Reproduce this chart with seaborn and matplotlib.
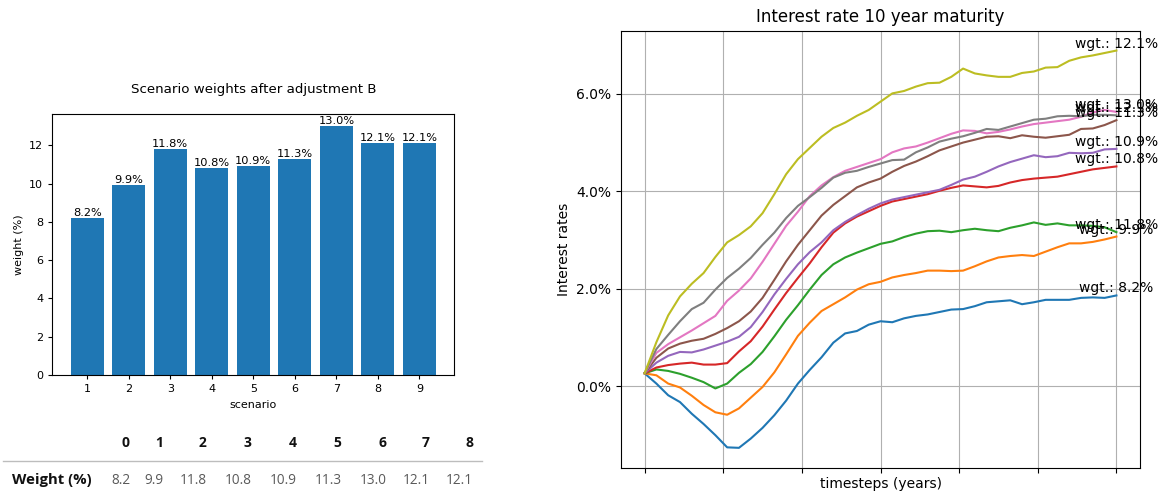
import numpy as np
import pandas as pd
import matplotlib
matplotlib.use("Agg")
import matplotlib.pyplot as plt
from matplotlib.lines import Line2D
from matplotlib.ticker import MultipleLocator, PercentFormatter
import seaborn as sns

# ---- data -------------------------------------------------------------
scenarios = [1, 2, 3, 4, 5, 6, 7, 8, 9]
weights = [8.2, 9.9, 11.8, 10.8, 10.9, 11.3, 13.0, 12.1, 12.1]

# monthly timesteps, sampled every quarter over 10 years
timesteps = list(range(0, 121, 3))

rate_s1 = [0.26, 0.05, -0.19, -0.33, -0.57, -0.78, -1.01, -1.26, -1.27, -1.08,
           -0.86, -0.60, -0.30, 0.05, 0.33, 0.59, 0.89, 1.08, 1.13, 1.26,
           1.33, 1.31, 1.39, 1.44, 1.47, 1.52, 1.57, 1.58, 1.64, 1.72,
           1.74, 1.76, 1.68, 1.72, 1.77, 1.77, 1.77, 1.81, 1.82, 1.81, 1.86]
rate_s2 = [0.26, 0.22, 0.05, -0.03, -0.20, -0.39, -0.54, -0.59, -0.46, -0.24,
           -0.02, 0.28, 0.65, 1.03, 1.30, 1.54, 1.68, 1.82, 1.98, 2.09,
           2.14, 2.23, 2.28, 2.32, 2.37, 2.37, 2.36, 2.37, 2.46, 2.56,
           2.64, 2.67, 2.69, 2.67, 2.76, 2.85, 2.93, 2.93, 2.96, 3.01, 3.07]
rate_s3 = [0.26, 0.34, 0.31, 0.25, 0.17, 0.08, -0.05, 0.05, 0.27, 0.45,
           0.70, 1.02, 1.36, 1.66, 1.98, 2.28, 2.50, 2.64, 2.74, 2.83,
           2.92, 2.97, 3.06, 3.13, 3.18, 3.19, 3.16, 3.20, 3.23, 3.20,
           3.18, 3.25, 3.30, 3.36, 3.31, 3.34, 3.30, 3.30, 3.29, 3.26, 3.16]
rate_s4 = [0.26, 0.38, 0.43, 0.46, 0.48, 0.44, 0.44, 0.47, 0.71, 0.92,
           1.22, 1.57, 1.91, 2.22, 2.52, 2.85, 3.15, 3.34, 3.48, 3.59,
           3.70, 3.79, 3.84, 3.89, 3.94, 4.01, 4.07, 4.12, 4.10, 4.08,
           4.11, 4.18, 4.23, 4.26, 4.28, 4.30, 4.35, 4.40, 4.45, 4.48, 4.51]
rate_s5 = [0.26, 0.48, 0.62, 0.70, 0.69, 0.75, 0.83, 0.91, 1.01, 1.21,
           1.52, 1.88, 2.20, 2.50, 2.75, 2.95, 3.20, 3.37, 3.51, 3.64,
           3.75, 3.83, 3.88, 3.93, 3.98, 4.03, 4.13, 4.24, 4.30, 4.40,
           4.51, 4.60, 4.67, 4.74, 4.70, 4.72, 4.79, 4.78, 4.79, 4.86, 4.87]
rate_s6 = [0.26, 0.58, 0.77, 0.87, 0.93, 0.97, 1.07, 1.19, 1.33, 1.53,
           1.81, 2.18, 2.56, 2.90, 3.20, 3.50, 3.72, 3.90, 4.08, 4.18,
           4.26, 4.40, 4.52, 4.61, 4.72, 4.84, 4.92, 5.00, 5.06, 5.12,
           5.13, 5.09, 5.15, 5.12, 5.10, 5.13, 5.16, 5.28, 5.29, 5.36, 5.46]
rate_s7 = [0.26, 0.68, 0.86, 1.00, 1.14, 1.29, 1.44, 1.75, 1.96, 2.21,
           2.55, 2.92, 3.29, 3.58, 3.90, 4.12, 4.29, 4.42, 4.50, 4.58,
           4.66, 4.80, 4.88, 4.92, 5.00, 5.09, 5.18, 5.25, 5.24, 5.19,
           5.22, 5.27, 5.33, 5.38, 5.41, 5.44, 5.47, 5.53, 5.62, 5.67, 5.63]
rate_s8 = [0.26, 0.76, 1.05, 1.33, 1.58, 1.71, 1.98, 2.22, 2.41, 2.63,
           2.90, 3.15, 3.45, 3.70, 3.88, 4.07, 4.28, 4.38, 4.42, 4.50,
           4.57, 4.64, 4.65, 4.80, 4.90, 5.02, 5.08, 5.13, 5.20, 5.28,
           5.26, 5.33, 5.40, 5.47, 5.49, 5.54, 5.55, 5.54, 5.57, 5.57, 5.56]
rate_s9 = [0.26, 0.90, 1.45, 1.84, 2.10, 2.32, 2.65, 2.95, 3.10, 3.28,
           3.55, 3.94, 4.35, 4.66, 4.89, 5.12, 5.30, 5.41, 5.55, 5.67,
           5.84, 6.01, 6.06, 6.15, 6.22, 6.23, 6.35, 6.52, 6.42, 6.38,
           6.35, 6.35, 6.43, 6.46, 6.54, 6.55, 6.68, 6.75, 6.79, 6.84, 6.89]

rates = [rate_s1, rate_s2, rate_s3, rate_s4, rate_s5,
         rate_s6, rate_s7, rate_s8, rate_s9]

# ---- figure -------------------------------------------------------------
W, H = 1163, 493
fig = plt.figure(figsize=(W / 100, H / 100), dpi=100)


def px_axes(left, top, right, bottom):
    return fig.add_axes([left / W, 1 - bottom / H, (right - left) / W, (bottom - top) / H])


tab10 = sns.color_palette("tab10", len(scenarios))

# ---- left: scenario weights bar chart -----------------------------------
ax1 = px_axes(52.3, 113.7, 454.3, 375)
sns.barplot(x=scenarios, y=weights, color=tab10[0], saturation=1,
            width=0.8, errorbar=None, ax=ax1)
n = len(scenarios)
pad = 0.05 * (n - 1 + 0.8)
ax1.set_xlim(-0.4 - pad, n - 1 + 0.4 + pad)
ax1.bar_label(ax1.containers[0], labels=[f"{w}%" for w in weights],
              fontsize=8.2, padding=0)
ax1.set_title("Scenario weights after adjustment B", fontsize=9.6, pad=15)
ax1.set_xlabel("scenario", fontsize=8)
ax1.set_ylabel("weight (%)", fontsize=8)
ax1.tick_params(labelsize=8, length=3)

# ---- table of weights underneath ------------------------------------------
table_font = ["Open Sans", "DejaVu Sans"]
col_right_px = [130, 163.3, 206.5, 251.7, 296.7, 341.7, 386.7, 430, 473.3]
for idx, (xr, w) in enumerate(zip(col_right_px, weights)):
    fig.text(xr / W, 1 - 443 / H, str(idx), ha="right", va="center",
             fontsize=10, fontweight="bold", family=table_font, color="#111111")
    fig.text(xr / W, 1 - 480 / H, f"{w:.1f}", ha="right", va="center",
             fontsize=9.8, family=table_font, color="#5a5a5a")
fig.text(11.7 / W, 1 - 480 / H, "Weight (%)", ha="left", va="center",
         fontsize=10.7, fontweight="bold", family=table_font, color="#111111")
fig.add_artist(Line2D([3.3 / W, 481.7 / W], [1 - 461 / H, 1 - 461 / H],
                      color="#bdbdbd", lw=1))

# ---- right: interest rate paths -------------------------------------------
ax2 = px_axes(621, 30.7, 1140, 467.7)
long = pd.DataFrame({
    "timestep": np.tile(timesteps, n),
    "rate": np.concatenate(rates),
    "scenario": np.repeat([f"scenario {s}" for s in scenarios], len(timesteps)),
})
palette = {f"scenario {s}": c for s, c in zip(scenarios, tab10)}
sns.lineplot(data=long, x="timestep", y="rate", hue="scenario",
             palette=palette, legend=False, linewidth=1.5, ax=ax2)

for series, w in zip(rates, weights):
    ax2.text(timesteps[-1], series[-1], f"wgt.: {w}%", ha="center",
             va="bottom", fontsize=10)

ax2.set_xticks(range(0, 121, 20))
ax2.set_xticklabels([])
ax2.yaxis.set_major_locator(MultipleLocator(2))
ax2.yaxis.set_major_formatter(PercentFormatter(xmax=100, decimals=1))
ax2.grid(True)
ax2.set_title("Interest rate 10 year maturity", fontsize=12)
ax2.set_xlabel("timesteps (years)", fontsize=10, labelpad=0)
ax2.set_ylabel("Interest rates", fontsize=10)
ax2.tick_params(labelsize=10)

fig.savefig("out.png", dpi=100)
